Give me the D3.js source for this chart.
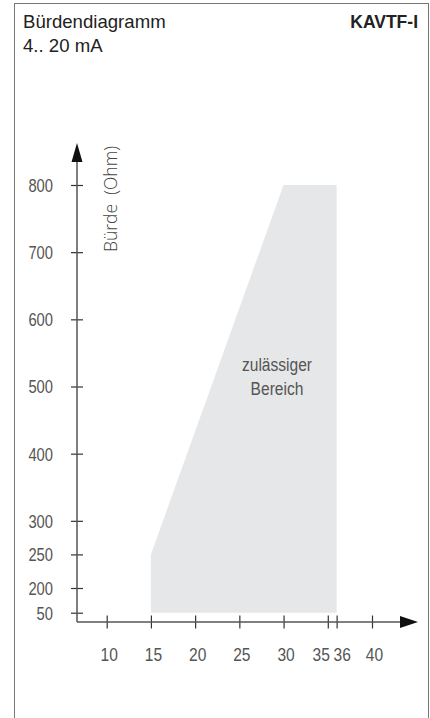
<!DOCTYPE html>
<html>
<head>
<meta charset="utf-8">
<script src="https://cdn.jsdelivr.net/npm/d3@7"></script>
<style>
  body { margin: 0; background: #fff; }
  svg { display: block; }
</style>
</head>
<body>
<div id="chart"></div>
<script>
// Bürdendiagramm KAVTF-I
const title = "Bürdendiagramm";
const subtitle = "4.. 20 mA";
const model = "KAVTF-I";
const yLabel = "Bürde  (Ohm)";
const areaLabel = ["zulässiger", "Bereich"];

const xTicks = [10, 15, 20, 25, 30, 35, 36, 40];
const yTicks = [50, 200, 250, 300, 400, 500, 600, 700, 800];

// admissible area corners: supply voltage (V) / load (Ohm)
const areaVolt = [15, 15, 30, 36, 36];
const areaLoad = [50, 250, 800, 800, 50];

const W = 430, H = 718;
const svg = d3.select("#chart").append("svg")
  .attr("width", W).attr("height", H);

const grey = "#555";
const sans = "'Liberation Sans', Arial, sans-serif";
const squeeze = 0.82; // no narrow font installed, so squeeze the normal one

// frame
svg.append("rect")
  .attr("x", 14.5).attr("y", 3.5)
  .attr("width", 414).attr("height", H + 10)
  .attr("fill", "none").attr("stroke", "#777").attr("stroke-width", 1);

svg.append("text").attr("x", 23).attr("y", 28)
  .attr("font-family", sans).attr("font-size", 18.6)
  .attr("fill", "#222").text(title);
svg.append("text").attr("x", 23).attr("y", 52)
  .attr("font-family", sans).attr("font-size", 18.6)
  .attr("fill", "#222").text(subtitle);
svg.append("text").attr("x", 418).attr("y", 28)
  .attr("text-anchor", "end")
  .attr("font-family", sans).attr("font-size", 17.5)
  .attr("font-weight", "bold").attr("fill", "#222").text(model);

// scales (y axis has a break between 50 and 200)
const x = d3.scaleLinear().domain([10, 40]).range([106.7, 372]);
const y = d3.scaleLinear().domain([50, 200, 800]).range([612.7, 588, 185]);

const axisX = 77, axisY = 622;

// area
const pts = areaVolt.map((v, i) => [x(v), y(areaLoad[i])]);
svg.append("path")
  .attr("d", d3.line()(pts) + "Z")
  .attr("fill", "#e6e7e8");

svg.selectAll(".area-label").data(areaLabel).join("text")
  .attr("class", "area-label")
  .attr("transform", (d, i) => `translate(277,${371 + i * 24}) scale(${squeeze},1)`)
  .attr("text-anchor", "middle")
  .attr("font-family", sans).attr("font-size", 19).attr("fill", grey)
  .text(d => d);

// y axis
const gy = svg.append("g").attr("transform", `translate(${axisX},0)`)
  .call(d3.axisLeft(y).tickValues(yTicks).tickSize(6).tickPadding(0));
gy.select(".domain").remove();
gy.selectAll(".tick line").attr("x1", -6).attr("x2", 6)
  .attr("stroke", "#333").attr("stroke-width", 1.2);
gy.selectAll(".tick text")
  .attr("x", 0).attr("dy", "0.36em")
  .attr("transform", `translate(-24,0) scale(${squeeze},1)`)
  .attr("font-family", sans).attr("font-size", 18).attr("fill", grey);

// x axis
const gx = svg.append("g").attr("transform", `translate(0,${axisY})`)
  .call(d3.axisBottom(x).tickValues(xTicks).tickSize(6).tickPadding(0));
gx.select(".domain").remove();
gx.selectAll(".tick line").attr("y1", -6.5).attr("y2", 6.5)
  .attr("stroke", "#333").attr("stroke-width", 1.2);
gx.selectAll(".tick text")
  .attr("y", 0).attr("dy", 0)
  .attr("transform", d => {
    const off = d === 35 ? -7 : d === 36 ? 5 : 2;
    return `translate(${off},38.5) scale(${squeeze},1)`;
  })
  .attr("font-family", sans).attr("font-size", 19).attr("fill", grey);

// axis lines with arrows
svg.append("line")
  .attr("x1", axisX).attr("x2", axisX).attr("y1", axisY).attr("y2", 160)
  .attr("stroke", grey).attr("stroke-width", 1.5);
svg.append("path")
  .attr("d", `M${axisX},143 L${axisX - 5.5},162 L${axisX + 5.5},162 Z`)
  .attr("fill", "#111");
svg.append("line")
  .attr("x1", axisX).attr("x2", 402).attr("y1", axisY).attr("y2", axisY)
  .attr("stroke", grey).attr("stroke-width", 1.5);
svg.append("path")
  .attr("d", `M418,${axisY} L400,${axisY - 6} L400,${axisY + 6} Z`)
  .attr("fill", "#111");

// y axis title
svg.append("text")
  .attr("transform", "translate(116.5,252) rotate(-90)")
  .attr("font-family", "'Open Sans', sans-serif").attr("font-weight", 300)
  .attr("font-size", 17.5).attr("fill", "#444")
  .style("white-space", "pre")
  .text(yLabel);
</script>
</body>
</html>
